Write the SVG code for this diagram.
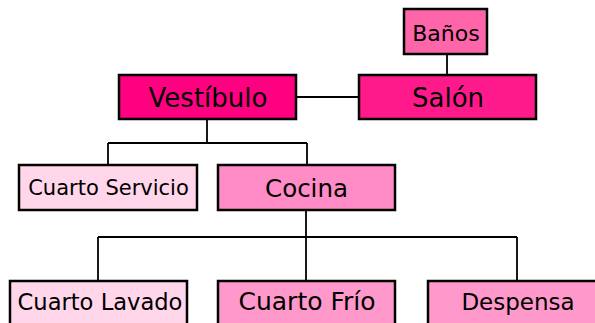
<svg xmlns="http://www.w3.org/2000/svg" width="595" height="323" viewBox="0 0 595 323">
<style>
.box{stroke:#000;stroke-width:2.5}
.t{font-family:"DejaVu Sans","Liberation Sans",sans-serif;fill:#000;text-anchor:middle}
.c{stroke:#000;stroke-width:1.8;fill:none}
</style>
<rect width="595" height="323" fill="#fff"/>
<g id="connectors">
<path class="c" d="M447,54V75"/>
<path class="c" d="M296,97H358"/>
<path class="c" d="M207,119V143M108,143H307M108,143V165M307,143V165"/>
<path class="c" d="M306,210V280M98,237H517M98,237V280M517,237V280"/>
</g>
<g id="banos"><rect class="box" x="404" y="9" width="83" height="45" fill="#FF66AA"/><text class="t" x="446" y="41" font-size="22">Baños</text></g>
<g id="vestibulo"><rect class="box" x="119" y="75" width="177" height="44" fill="#FF0080"/><text class="t" x="208" y="107" font-size="26">Vestíbulo</text></g>
<g id="salon"><rect class="box" x="359" y="75" width="177" height="44" fill="#FF1A8C"/><text class="t" x="448" y="107" font-size="26">Salón</text></g>
<g id="cuarto-servicio"><rect class="box" x="19" y="165" width="178" height="45" fill="#FFD6EA"/><text class="t" x="108.5" y="195" font-size="21">Cuarto Servicio</text></g>
<g id="cocina"><rect class="box" x="218" y="165" width="177" height="45" fill="#FF8CC6"/><text class="t" x="306.5" y="197" font-size="24.5">Cocina</text></g>
<g id="cuarto-lavado"><rect class="box" x="10" y="281" width="177" height="50" fill="#FFD6EA"/><text class="t" x="100" y="310" font-size="22.6">Cuarto Lavado</text></g>
<g id="cuarto-frio"><rect class="box" x="218" y="281" width="177" height="50" fill="#FF99CC"/><text class="t" x="307" y="310" font-size="25">Cuarto Frío</text></g>
<g id="despensa"><rect class="box" x="428" y="281" width="180" height="50" fill="#FF99CC"/><text class="t" x="518" y="310" font-size="23">Despensa</text></g>
</svg>
